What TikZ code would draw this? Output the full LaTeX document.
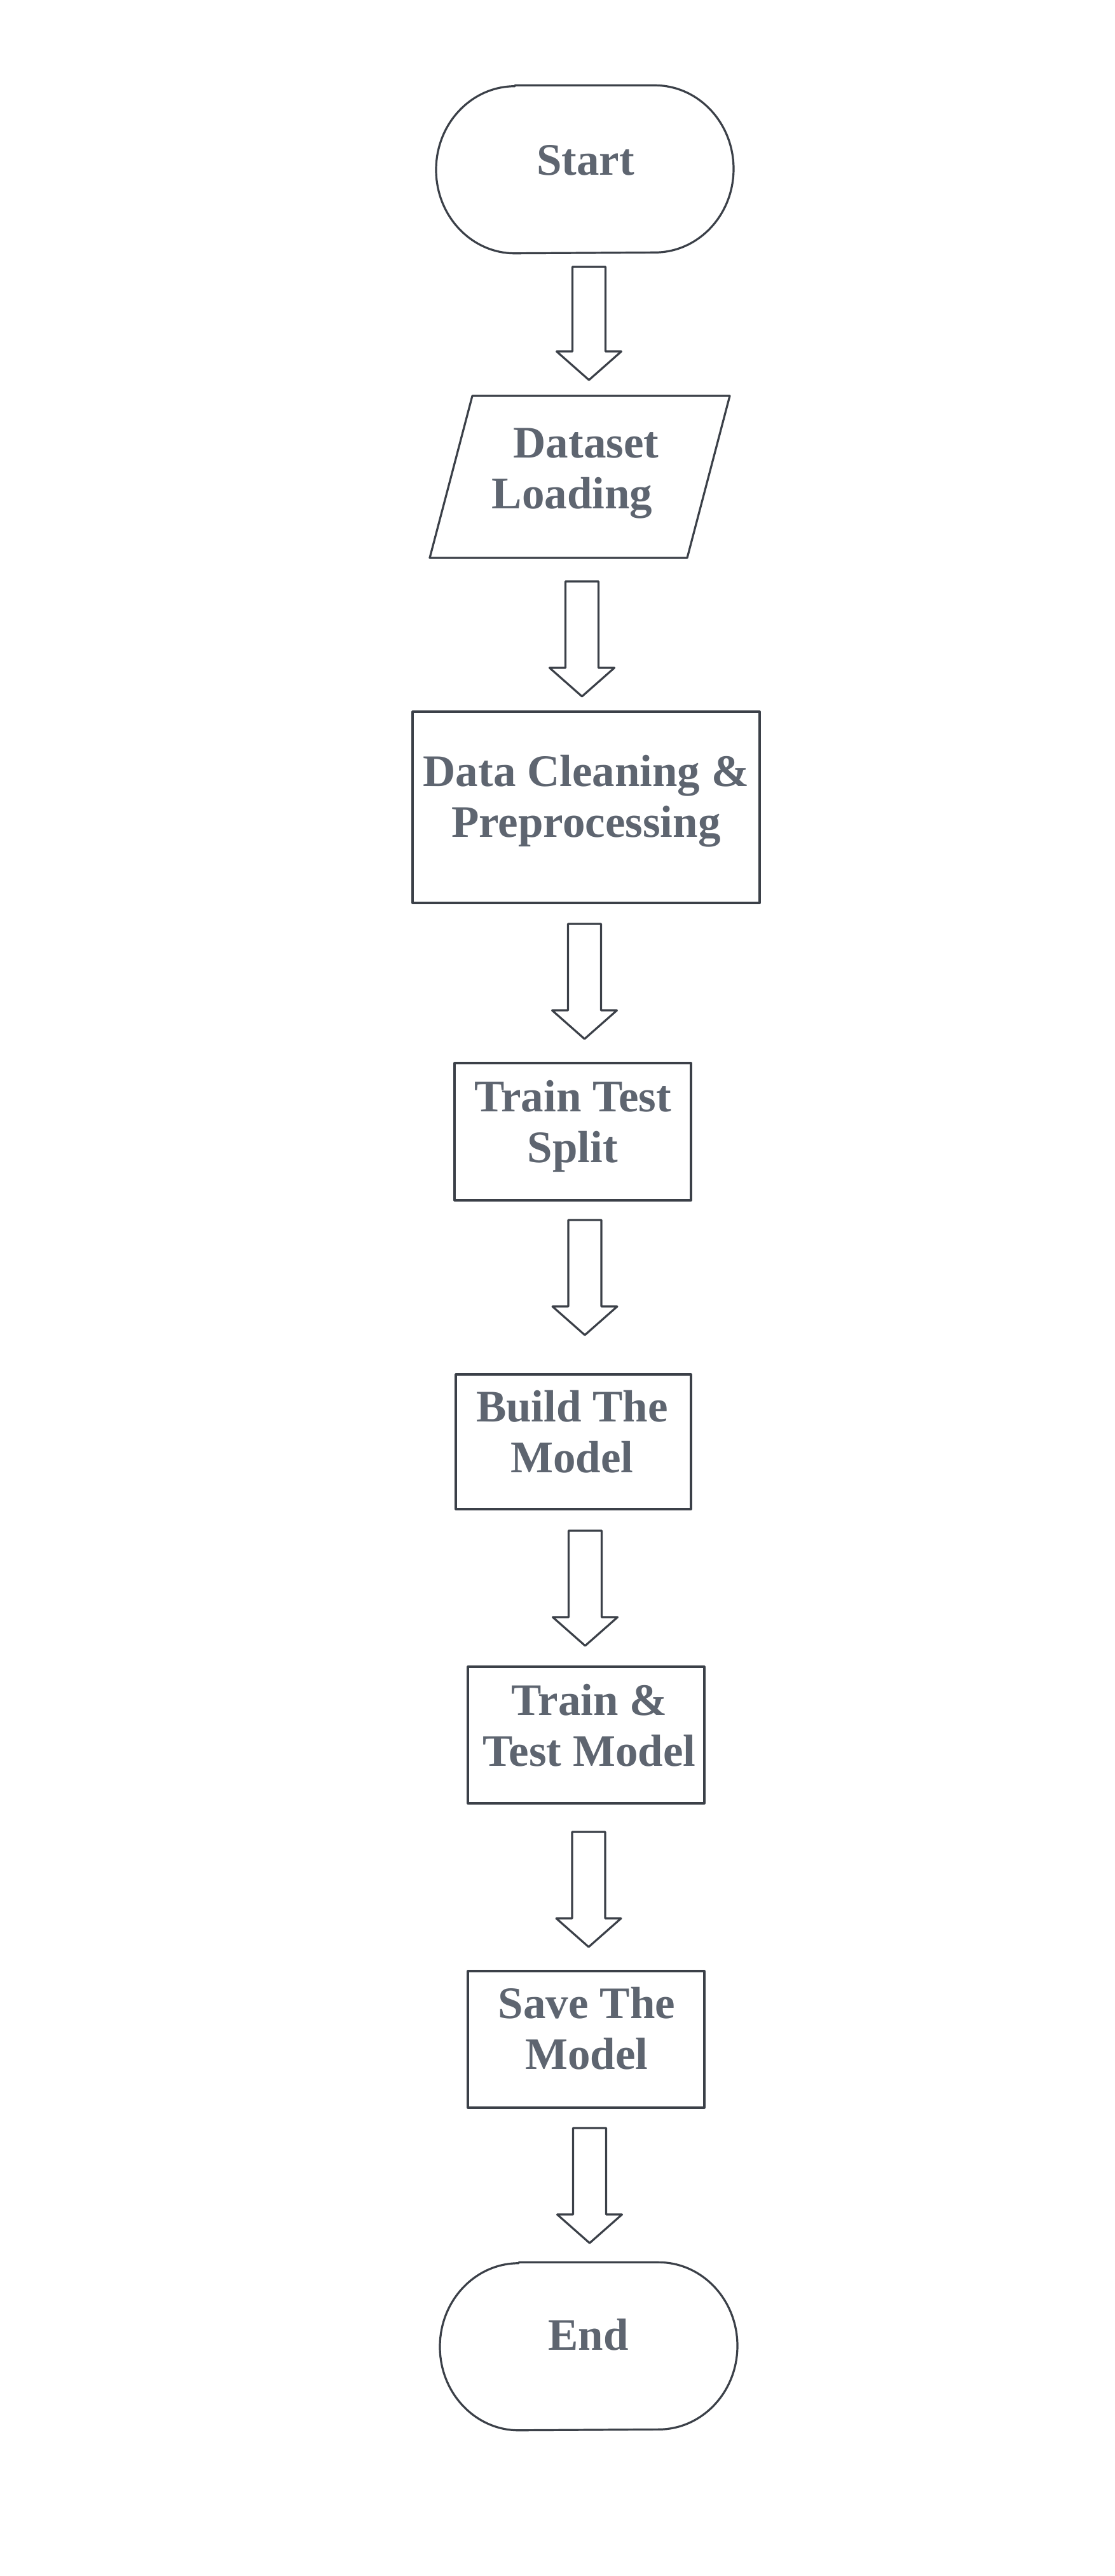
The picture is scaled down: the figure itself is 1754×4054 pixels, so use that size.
\documentclass[tikz,border=0pt]{standalone}
\usepackage{fontspec}
\setmainfont{Liberation Serif}
\usetikzlibrary{shapes.misc,calc}
\definecolor{edgecol}{HTML}{3B4048}
\definecolor{inkcol}{HTML}{5E6570}
\tikzset{
  shapeline/.style={draw=edgecol, line width=0.32mm, line join=round, fill=white},
  termbox/.style={rectangle, inner sep=0pt, minimum width=46.8mm, minimum height=26.3mm},
  procbox/.style={shapeline, rectangle, inner sep=0pt},
  txt/.style={anchor=base, inner sep=0pt, text=inkcol, font=\fontsize{20.2pt}{22.76pt}\selectfont\bfseries},
  blkarrow/.style={draw=edgecol, line width=0.32mm, line join=round, fill=white,
    to path={($(\tikztostart)+(-26,0)$) -- ($(\tikztostart)+(26,0)$)
      -- ($(\tikztotarget)+(26,-45)$) -- ($(\tikztotarget)+(51,-45)$)
      -- (\tikztotarget) -- ($(\tikztotarget)+(-51,-45)$)
      -- ($(\tikztotarget)+(-26,-45)$) -- cycle}}
}
\newcommand{\stadiumoutline}[1]{%
  \draw[shapeline] ([xshift=-11mm]#1.north) -- ([xshift=11mm]#1.north)
    arc[start angle=90, end angle=-90, x radius=12.4mm, y radius=13.15mm]
    -- ([xshift=-11mm]#1.south)
    arc[start angle=270, end angle=90, x radius=12.4mm, y radius=13.15mm] -- cycle;}
\begin{document}
\begin{tikzpicture}[x=0.1mm, y=-0.1mm]
  \fill[white] (0,0) rectangle (1754,4054);
  \useasboundingbox (0,0) rectangle (1754,4054);

  % shapes
  \node[termbox] (start) at (920,266.5) {};
  \stadiumoutline{start}
  \coordinate (p1) at (743,623);
  \coordinate (p2) at (1148,623);
  \coordinate (p3) at (1081,878);
  \coordinate (p4) at (676,878);
  \draw[shapeline] (p1) -- (p2) -- (p3) -- (p4) -- cycle;
  \node[procbox, minimum width=54.6mm, minimum height=30.1mm] (clean) at (922,1270.5) {};
  \node[procbox, minimum width=37.2mm, minimum height=21.6mm] (split) at (901,1781) {};
  \node[procbox, minimum width=37.0mm, minimum height=21.2mm] (build) at (902,2269) {};
  \node[procbox, minimum width=37.2mm, minimum height=21.5mm] (trainm) at (922,2730.5) {};
  \node[procbox, minimum width=37.2mm, minimum height=21.5mm] (save) at (922,3209.5) {};
  \node[termbox] (end) at (926,3692.5) {};
  \stadiumoutline{end}

  % texts
  \node[txt] (tstart) at (921,275) {Start};
  \node[txt] (tload) at (900,720) {\begin{tabular}[t]{@{}c@{}}\hspace*{4.4mm}Dataset\\Loading\end{tabular}};
  \node[txt] (tclean) at (922,1237) {\begin{tabular}[t]{@{}c@{}}Data Cleaning \&\\Preprocessing\end{tabular}};
  \node[txt] (tsplit) at (901,1749) {\begin{tabular}[t]{@{}c@{}}Train Test\\Split\end{tabular}};
  \node[txt] (tbuild) at (900,2237) {\begin{tabular}[t]{@{}c@{}}Build The\\Model\end{tabular}};
  \node[txt] (ttrain) at (927,2699) {\begin{tabular}[t]{@{}c@{}}Train \&\\Test Model\end{tabular}};
  \node[txt] (tsave) at (923,3176) {\begin{tabular}[t]{@{}c@{}}Save The\\Model\end{tabular}};
  \node[txt] (tend) at (925.5,3698) {End};

  % block arrows
  \coordinate (a1s) at (926.5,420);  \coordinate (a1e) at (926.5,598);
  \coordinate (a2s) at (915.5,915);  \coordinate (a2e) at (915.5,1096);
  \coordinate (a3s) at (919.5,1454); \coordinate (a3e) at (919.5,1635);
  \coordinate (a4s) at (920,1920);   \coordinate (a4e) at (920,2101);
  \coordinate (a5s) at (920.5,2409); \coordinate (a5e) at (920.5,2590);
  \coordinate (a6s) at (926,2883);   \coordinate (a6e) at (926,3064);
  \coordinate (a7s) at (927.5,3349); \coordinate (a7e) at (927.5,3530);
  \draw[blkarrow] (a1s) to (a1e);
  \draw[blkarrow] (a2s) to (a2e);
  \draw[blkarrow] (a3s) to (a3e);
  \draw[blkarrow] (a4s) to (a4e);
  \draw[blkarrow] (a5s) to (a5e);
  \draw[blkarrow] (a6s) to (a6e);
  \draw[blkarrow] (a7s) to (a7e);
\end{tikzpicture}
\end{document}
